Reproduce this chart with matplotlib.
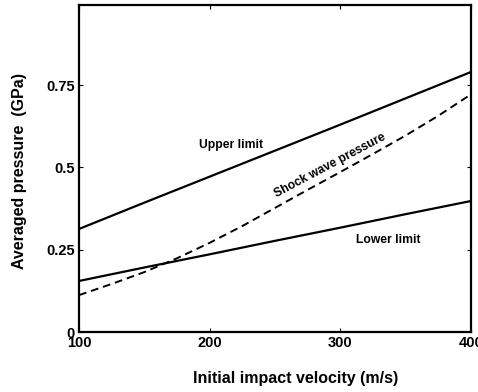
import numpy as np
import matplotlib
matplotlib.use("Agg")
import matplotlib.pyplot as plt

plt.rcParams['font.family'] = ['Liberation Sans', 'DejaVu Sans']
plt.rcParams['font.weight'] = 'bold'

### Data
velocity = [100, 150, 200, 250, 300, 350, 400]
upper_limit = [0.313, 0.393, 0.472, 0.551, 0.630, 0.710, 0.790]
lower_limit = [0.155, 0.196, 0.236, 0.277, 0.317, 0.358, 0.398]

shock_velocity = [100, 125, 150, 175, 200, 225, 250, 275, 300, 325, 350, 375, 400]
shock_pressure = [0.112, 0.146, 0.182, 0.224, 0.271, 0.322, 0.377, 0.432,
                  0.486, 0.541, 0.597, 0.657, 0.722]

x_ticks = [100, 200, 300, 400]
y_ticks = [0, 0.25, 0.5, 0.75]
y_tick_labels = ['0', '0.25', '0.5', '0.75']

### Plotting
fig = plt.figure(figsize=(4.78, 3.92), dpi=100)
ax = fig.add_axes([79/478, 60/392, 392/478, 327.5/392])

ax.plot(velocity, upper_limit, color='black', lw=1.6)
ax.plot(velocity, lower_limit, color='black', lw=1.6)
ax.plot(shock_velocity, shock_pressure, color='black', lw=1.4,
        ls=(0, (4, 2.5)))

ax.set_xlim(100, 400)
ax.set_ylim(0, 0.995)
ax.set_xticks(x_ticks)
ax.set_yticks(y_ticks)
ax.set_yticklabels(y_tick_labels)
ax.tick_params(direction='in', length=3, width=0.8, labelsize=10.5,
               top=True, right=True, pad=3)
for s in ax.spines.values():
  s.set_linewidth(1.6)

ax.text(216, 0.568, 'Upper limit', fontsize=8.7, ha='center', va='center')
ax.text(292, 0.507, 'Shock wave pressure', fontsize=8.7, ha='center',
        va='center', rotation=28)
ax.text(337, 0.279, 'Lower limit', fontsize=8.7, ha='center', va='center')

fig.text(296/478, 1 - 379/392, 'Initial impact velocity (m/s)', fontsize=11.5,
         ha='center', va='center')
fig.text(20/478, 1 - 171/392, 'Averaged pressure  (GPa)', fontsize=11.5,
         ha='center', va='center', rotation=90)

fig.savefig('out.png', dpi=100)
